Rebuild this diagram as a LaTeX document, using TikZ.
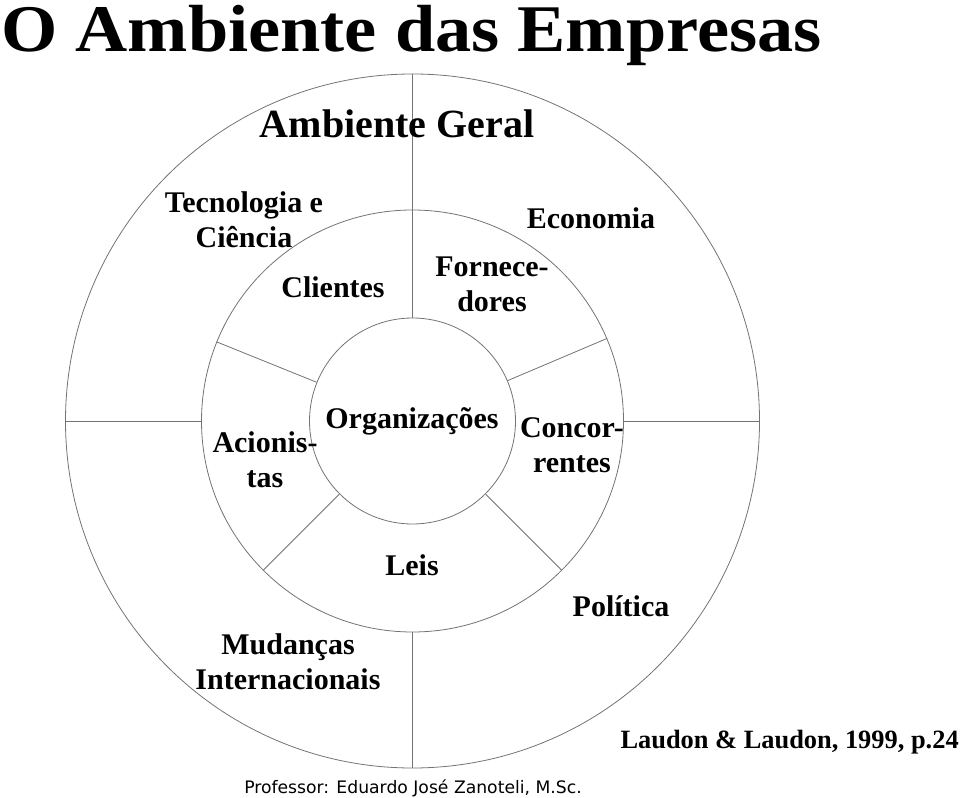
\documentclass[tikz,border=0pt]{standalone}
\usepackage{fontspec}
\setmainfont{Liberation Serif}
\newfontfamily\profont{DejaVu Sans}
\begin{document}
\begin{tikzpicture}[x=0.75pt,y=-0.75pt,
  ring/.style={circle,draw=black!55,line width=0.6pt,inner sep=0pt,fill=none},
  divider/.style={draw=black!55,line width=0.6pt},
  lbl/.style={anchor=base,inner sep=0pt,font=\fontsize{22.5}{26.25}\selectfont\bfseries},
]
\useasboundingbox (0,0) rectangle (960,798);
\coordinate (C) at (412.5,421);
\node[ring,minimum size=520.5pt] (outer) at (C) {};
\node[ring,minimum size=316.5pt] (middle) at (C) {};
\node[ring,minimum size=154.5pt] (inner) at (C) {};
\draw[divider] (outer.90) -- (inner.90);
\draw[divider] (outer.180) -- (middle.180);
\draw[divider] (outer.0) -- (middle.0);
\draw[divider] (outer.270) -- (middle.270);
\draw[divider] (middle.158) -- (inner.158);
\draw[divider] (middle.23) -- (inner.23);
\draw[divider] (middle.225) -- (inner.225);
\draw[divider] (middle.315) -- (inner.315);
% title
\node[anchor=base west,inner sep=0pt,xscale=1.085,font=\fontsize{50}{55}\selectfont\bfseries] (title) at (1,52) {O Ambiente das Empresas};
% labels
\node[lbl,font=\fontsize{30}{34}\selectfont\bfseries] (geral) at (397,138) {Ambiente Geral};
\node[lbl] (tec) at (244,213) {\begin{tabular}[t]{@{}c@{}}Tecnologia e\\Ciência\end{tabular}};
\node[lbl] (cli) at (333,298) {Clientes};
\node[lbl] (eco) at (591,229) {Economia};
\node[lbl] (forn) at (492,277) {\begin{tabular}[t]{@{}c@{}}Fornece-\\dores\end{tabular}};
\node[lbl] (acio) at (265,452) {\begin{tabular}[t]{@{}c@{}}Acionis-\\tas\end{tabular}};
\node[lbl] (org) at (412,428) {Organizações};
\node[lbl] (conc) at (572,437) {\begin{tabular}[t]{@{}c@{}}Concor-\\rentes\end{tabular}};
\node[lbl] (leis) at (412,575) {Leis};
\node[lbl] (pol) at (621,616) {Política};
\node[lbl] (mud) at (288,654) {\begin{tabular}[t]{@{}c@{}}Mudanças\\Internacionais\end{tabular}};
\node[anchor=base east,inner sep=0pt,font=\fontsize{19.8}{24}\selectfont\bfseries] (ref) at (959,748) {Laudon \& Laudon, 1999, p.24};
\node[anchor=base,inner sep=0pt,font=\profont\fontsize{12.9}{15}\selectfont] (prof) at (413,793) {Professor: Eduardo José Zanoteli, M.Sc.};
\end{tikzpicture}
\end{document}
